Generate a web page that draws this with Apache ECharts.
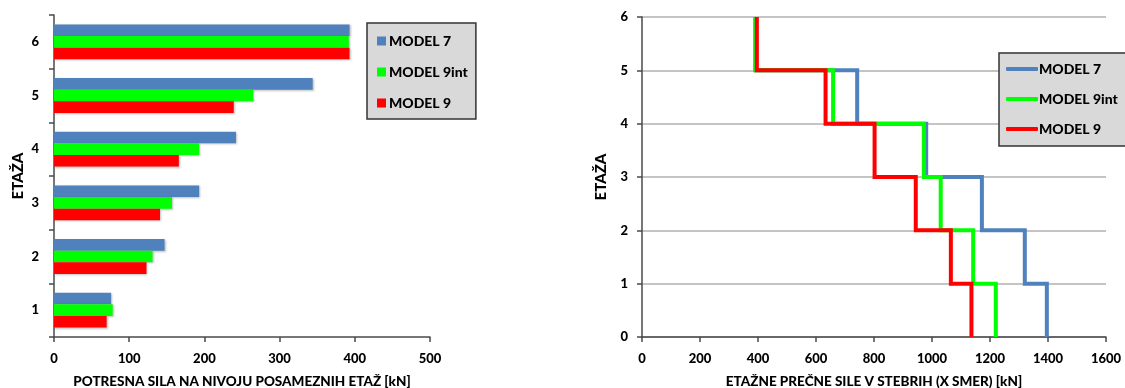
<!DOCTYPE html>
<html>
<head>
<meta charset="utf-8">
<script src="https://cdn.jsdelivr.net/npm/echarts@6/dist/echarts.min.js"></script>
<style>
html,body{margin:0;padding:0;background:#fff;}
#left{position:absolute;left:0;top:0;width:560px;height:388px;}
#right{position:absolute;left:560px;top:0;width:565px;height:388px;}
</style>
</head>
<body>
<div id="left"></div>
<div id="right"></div>
<script>
// ---- data ----
const seriesNames = ['MODEL 7', 'MODEL 9int', 'MODEL 9'];
// Left chart: storey force per storey (storey 1..6, bottom to top)
const storeys = ['1', '2', '3', '4', '5', '6'];
const model7Force = [76, 147, 193, 242, 344, 393];
const model9intForce = [78, 131, 157, 193, 265, 392];
const model9Force = [70, 123, 141, 166, 239, 393];
const leftXTicks = [0, 100, 200, 300, 400, 500];
// Right chart: storey shear in columns (storey 1..6, bottom to top)
const model7Shear = [1396, 1320, 1172, 980, 742, 393];
const model9intShear = [1220, 1142, 1030, 972, 659, 390];
const model9Shear = [1136, 1065, 944, 802, 633, 396];
const rightXTicks = [0, 200, 400, 600, 800, 1000, 1200, 1400, 1600];
const rightYLevels = [0, 1, 2, 3, 4, 5, 6];

const leftXName = 'POTRESNA SILA NA NIVOJU POSAMEZNIH ETAŽ [kN]';
const rightXName = 'ETAŽNE PREČNE SILE V STEBRIH (X SMER) [kN]';
const yName = 'ETAŽA';

const colors = ['#4f81bd', '#00ff00', '#ff0000'];
const FONT = 'Lato';
const AX = '#4a4a4a';
const labelStyle = {fontFamily: FONT, fontWeight: 900, fontSize: 13, color: '#000'};

// step path: vertical segment per storey, horizontal at floor levels
function stepPoints(vals) {
  const pts = [];
  for (let i = vals.length - 1; i >= 0; i--) {
    pts.push([vals[i], i + 1]);
    pts.push([vals[i], i]);
  }
  return pts;
}

const barShadow = {shadowColor: 'rgba(0,0,0,0.25)', shadowBlur: 2, shadowOffsetX: 1, shadowOffsetY: 1};

const leftChart = echarts.init(document.getElementById('left'));
leftChart.setOption({
  animation: false,
  textStyle: {fontFamily: FONT},
  grid: {left: 54, top: 15, width: 376, height: 322, containLabel: false, outerBoundsMode: 'none'},
  legend: {
    orient: 'vertical', left: 367, top: 23,
    data: seriesNames,
    icon: 'rect', itemWidth: 9, itemHeight: 9, itemGap: 15,
    padding: [10, 8, 8, 10],
    backgroundColor: '#d9d9d9', borderColor: '#333', borderWidth: 1.5,
    textStyle: {fontFamily: FONT, fontWeight: 900, fontSize: 14, color: '#000', lineHeight: 16, padding: [0, 0, 0, -2]}
  },
  xAxis: {
    type: 'value', min: leftXTicks[0], max: leftXTicks[leftXTicks.length - 1],
    interval: leftXTicks[1] - leftXTicks[0],
    name: leftXName, nameLocation: 'middle', nameGap: 38, nameMoveOverlap: false,
    nameTextStyle: Object.assign({}, labelStyle, {fontSize: 13.5}),
    axisLine: {show: true, lineStyle: {color: AX, width: 1.5}},
    axisTick: {show: true, length: 5, lineStyle: {color: AX, width: 1.5}},
    axisLabel: Object.assign({margin: 15}, labelStyle),
    splitLine: {show: false}
  },
  yAxis: {
    type: 'category', data: storeys,
    name: yName, nameLocation: 'middle', nameGap: 28, nameMoveOverlap: false,
    nameTextStyle: Object.assign({}, labelStyle, {fontSize: 15}),
    axisLine: {show: true, lineStyle: {color: AX, width: 1.5}},
    axisTick: {show: true, length: 5, lineStyle: {color: AX, width: 1.5}},
    axisLabel: Object.assign({margin: 15}, labelStyle)
  },
  series: [
    {name: seriesNames[0], type: 'bar', data: model7Force, itemStyle: Object.assign({color: colors[0]}, barShadow), barGap: '0%', barCategoryGap: '35%'},
    {name: seriesNames[1], type: 'bar', data: model9intForce, itemStyle: Object.assign({color: colors[1]}, barShadow)},
    {name: seriesNames[2], type: 'bar', data: model9Force, itemStyle: Object.assign({color: colors[2]}, barShadow)}
  ]
});

const rightChart = echarts.init(document.getElementById('right'));
const lineSeries = [model7Shear, model9intShear, model9Shear].map((vals, k) => ({
  name: seriesNames[k], type: 'line', data: stepPoints(vals),
  symbol: 'none', showSymbol: false,
  lineStyle: {color: colors[k], width: 4, cap: 'butt', join: 'miter'},
  itemStyle: {color: colors[k]}
}));
rightChart.setOption({
  animation: false,
  textStyle: {fontFamily: FONT},
  grid: {left: 82, top: 17, width: 464, height: 320, containLabel: false, outerBoundsMode: 'none'},
  legend: {
    orient: 'vertical', left: 439, top: 53,
    data: seriesNames,
    icon: 'roundRect', itemWidth: 32, itemHeight: 4, itemGap: 14,
    padding: [8, 12, 9, 7],
    backgroundColor: '#d9d9d9', borderColor: '#333', borderWidth: 1.5,
    textStyle: {fontFamily: FONT, fontWeight: 900, fontSize: 14, color: '#000', lineHeight: 16, padding: [0, 0, 0, -4]}
  },
  xAxis: {
    type: 'value', min: rightXTicks[0], max: rightXTicks[rightXTicks.length - 1],
    interval: rightXTicks[1] - rightXTicks[0],
    name: rightXName, nameLocation: 'middle', nameGap: 38, nameMoveOverlap: false,
    nameTextStyle: Object.assign({}, labelStyle, {fontSize: 13.5}),
    axisLine: {show: true, onZero: false, lineStyle: {color: AX, width: 1.5}},
    axisTick: {show: true, length: 5, lineStyle: {color: AX, width: 1.5}},
    axisLabel: Object.assign({margin: 15, formatter: v => String(v)}, labelStyle),
    splitLine: {show: false}
  },
  yAxis: {
    type: 'value', min: rightYLevels[0], max: rightYLevels[rightYLevels.length - 1], interval: 1,
    name: yName, nameLocation: 'middle', nameGap: 33, nameMoveOverlap: false,
    nameTextStyle: Object.assign({}, labelStyle, {fontSize: 15}),
    axisLine: {show: true, onZero: false, lineStyle: {color: AX, width: 1.5}},
    axisTick: {show: true, length: 5, lineStyle: {color: AX, width: 1.5}},
    axisLabel: Object.assign({margin: 14}, labelStyle),
    splitLine: {show: true, lineStyle: {color: '#b0b0b0', width: 1.5}}
  },
  series: lineSeries
});
</script>
</body>
</html>
